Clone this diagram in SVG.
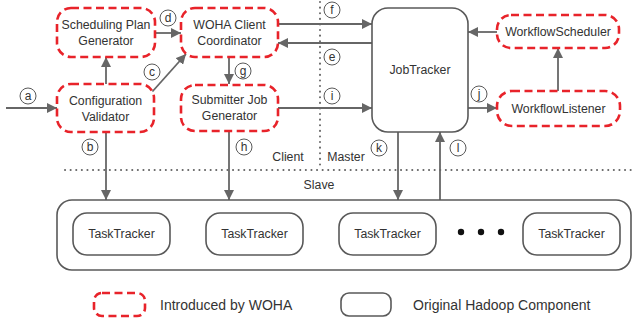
<svg xmlns="http://www.w3.org/2000/svg" width="632" height="321" viewBox="0 0 632 321">
<style>
.woha{fill:#fff;stroke:#e8232a;stroke-width:2.6;stroke-dasharray:8 4.5}
.orig{fill:#fff;stroke:#595959;stroke-width:1.6}
.t{font-family:"Liberation Sans",Arial,sans-serif;font-size:12.3px;fill:#333;text-anchor:middle}
.lg{font-family:"Liberation Sans",Arial,sans-serif;font-size:14px;fill:#333}
.lb{font-family:"Liberation Sans",Arial,sans-serif;font-size:12px;fill:#333;text-anchor:middle}
.c{fill:#fff;stroke:#595959;stroke-width:1}
.ln{stroke:#666;stroke-width:1.8;fill:none}
.dot{stroke:#666;stroke-width:2;stroke-dasharray:0.1 5.5;stroke-linecap:round;fill:none}
</style>
<defs>
<marker id="ar" viewBox="0 0 10 10" refX="10" refY="5" markerWidth="10" markerHeight="10" orient="auto" markerUnits="userSpaceOnUse">
<path d="M0,0 L10,5 L0,10 z" fill="#666"/>
</marker>
</defs>
<rect width="632" height="321" fill="#fff"/>
<g id="separators">
<line class="dot" x1="320" y1="2" x2="320" y2="166"/>
<line class="dot" x1="65" y1="170" x2="632" y2="170"/>
<text class="t" x="288" y="161">Client</text>
<text class="t" x="346" y="161">Master</text>
<text class="t" x="319" y="189">Slave</text>
</g>
<g id="connectors">
<line class="ln" x1="6" y1="108" x2="57" y2="108" marker-end="url(#ar)"/>
<line class="ln" x1="106" y1="84" x2="106" y2="57" marker-end="url(#ar)"/>
<line class="ln" x1="152" y1="92" x2="186" y2="54" marker-end="url(#ar)"/>
<line class="ln" x1="155" y1="33" x2="181" y2="33" marker-end="url(#ar)"/>
<line class="ln" x1="229" y1="57" x2="229" y2="84" marker-end="url(#ar)"/>
<line class="ln" x1="278" y1="24" x2="372" y2="24" marker-end="url(#ar)"/>
<line class="ln" x1="372" y1="43" x2="278" y2="43" marker-end="url(#ar)"/>
<line class="ln" x1="278" y1="108" x2="372" y2="108" marker-end="url(#ar)"/>
<line class="ln" x1="468" y1="108" x2="497" y2="108" marker-end="url(#ar)"/>
<line class="ln" x1="558" y1="91" x2="558" y2="48" marker-end="url(#ar)"/>
<line class="ln" x1="497" y1="32" x2="468" y2="32" marker-end="url(#ar)"/>
<line class="ln" x1="106" y1="132" x2="106" y2="200" marker-end="url(#ar)"/>
<line class="ln" x1="229" y1="131" x2="229" y2="200" marker-end="url(#ar)"/>
<line class="ln" x1="398" y1="132" x2="398" y2="200" marker-end="url(#ar)"/>
<line class="ln" x1="440" y1="200" x2="440" y2="132" marker-end="url(#ar)"/>
</g>
<g id="labels">
<circle class="c" cx="28" cy="96" r="8"/><text class="lb" x="28" y="100">a</text>
<circle class="c" cx="90" cy="147" r="8"/><text class="lb" x="90" y="151">b</text>
<circle class="c" cx="152" cy="72" r="8"/><text class="lb" x="152" y="76">c</text>
<circle class="c" cx="168" cy="18" r="8"/><text class="lb" x="168" y="22">d</text>
<circle class="c" cx="332" cy="57" r="8"/><text class="lb" x="332" y="61">e</text>
<circle class="c" cx="332" cy="10" r="8"/><text class="lb" x="332" y="14">f</text>
<circle class="c" cx="243" cy="71" r="8"/><text class="lb" x="243" y="75">g</text>
<circle class="c" cx="244" cy="147" r="8"/><text class="lb" x="244" y="151">h</text>
<circle class="c" cx="332" cy="96" r="8"/><text class="lb" x="332" y="100">i</text>
<circle class="c" cx="479" cy="94" r="8"/><text class="lb" x="479" y="98">j</text>
<circle class="c" cx="379" cy="148" r="8"/><text class="lb" x="379" y="152">k</text>
<circle class="c" cx="458" cy="148" r="8"/><text class="lb" x="458" y="152">l</text>
</g>
<g id="scheduling-plan-generator">
<rect class="woha" x="57" y="8" width="98" height="49" rx="14"/>
<text class="t" x="106" y="29">Scheduling Plan</text>
<text class="t" x="106" y="45">Generator</text>
</g>
<g id="woha-client-coordinator">
<rect class="woha" x="181" y="8" width="97" height="49" rx="14"/>
<text class="t" x="229.5" y="29">WOHA Client</text>
<text class="t" x="229.5" y="45">Coordinator</text>
</g>
<g id="configuration-validator">
<rect class="woha" x="57" y="84" width="97" height="48" rx="14"/>
<text class="t" x="105.5" y="105">Configuration</text>
<text class="t" x="105.5" y="121">Validator</text>
</g>
<g id="submitter-job-generator">
<rect class="woha" x="181" y="85" width="97" height="46" rx="14"/>
<text class="t" x="229.5" y="104">Submitter Job</text>
<text class="t" x="229.5" y="120">Generator</text>
</g>
<g id="jobtracker">
<rect class="orig" x="372" y="8" width="96" height="124" rx="16"/>
<text class="t" x="420" y="74">JobTracker</text>
</g>
<g id="workflow-scheduler">
<rect class="woha" x="497" y="15" width="122" height="33" rx="14"/>
<text class="t" x="558" y="36">WorkflowScheduler</text>
</g>
<g id="workflow-listener">
<rect class="woha" x="497" y="91" width="123" height="35" rx="15"/>
<text class="t" x="558.5" y="113">WorkflowListener</text>
</g>
<g id="slave">
<rect class="orig" x="57" y="200" width="574" height="70" rx="15"/>
<g id="tasktracker-1"><rect class="orig" x="73" y="213" width="97" height="42" rx="14"/><text class="t" x="121.5" y="238">TaskTracker</text></g>
<g id="tasktracker-2"><rect class="orig" x="206" y="213" width="97" height="42" rx="14"/><text class="t" x="254.5" y="238">TaskTracker</text></g>
<g id="tasktracker-3"><rect class="orig" x="339" y="213" width="97" height="42" rx="14"/><text class="t" x="387.5" y="238">TaskTracker</text></g>
<g id="tasktracker-4"><rect class="orig" x="523" y="213" width="97" height="42" rx="14"/><text class="t" x="571.5" y="238">TaskTracker</text></g>
<circle cx="461" cy="232" r="3.2" fill="#111"/>
<circle cx="481" cy="232" r="3.2" fill="#111"/>
<circle cx="501" cy="232" r="3.2" fill="#111"/>
</g>
<g id="legend">
<rect class="woha" x="94" y="293" width="51" height="23" rx="8"/>
<text class="lg" x="160" y="310">Introduced by WOHA</text>
<rect class="orig" x="341" y="293" width="50" height="23" rx="8"/>
<text class="lg" x="413" y="310">Original Hadoop Component</text>
</g>
</svg>
